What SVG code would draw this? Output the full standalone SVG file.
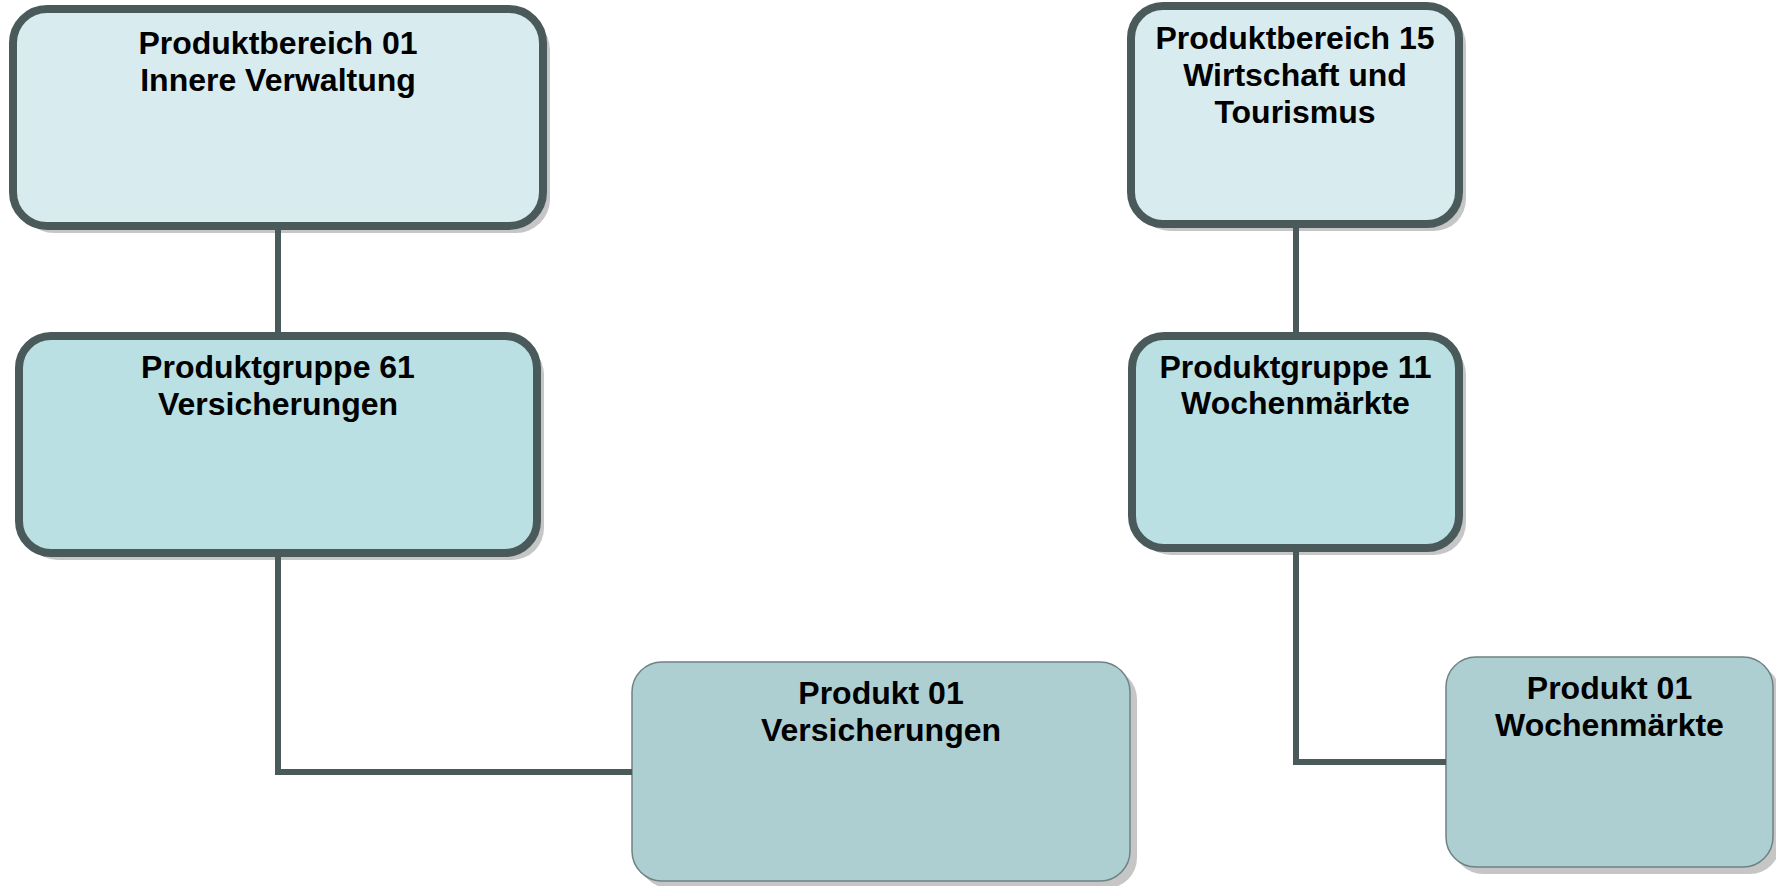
<svg xmlns="http://www.w3.org/2000/svg" width="1776" height="886" viewBox="0 0 1776 886">
<style>
.shadow{fill:#c6c6c6;}
.lvl1{fill:#d8ecef;stroke:#4a5a5b;stroke-width:8;}
.lvl2{fill:#bbe0e3;stroke:#4a5a5b;stroke-width:8;}
.lvl3{fill:#aecfd2;stroke:#6e8283;stroke-width:1.5;}
.conn{fill:none;stroke:#4a5a5b;stroke-width:6;stroke-linejoin:miter;}
text{font-family:"Liberation Sans",Arial,sans-serif;font-weight:bold;font-size:32px;fill:#000;text-anchor:middle;}
</style>
<rect width="1776" height="886" fill="#ffffff"/>
<g id="node-pb01">
<rect class="shadow" x="20" y="16" width="530" height="217" rx="34"/>
<rect class="lvl1" x="13" y="9" width="530" height="217" rx="34"/>
<text x="278" y="54">Produktbereich 01</text>
<text x="278" y="91">Innere Verwaltung</text>
</g>
<g id="node-pg61">
<rect class="shadow" x="26" y="343" width="518" height="217" rx="32"/>
<rect class="lvl2" x="19" y="336" width="518" height="217" rx="32"/>
<text x="278" y="378">Produktgruppe 61</text>
<text x="278" y="415">Versicherungen</text>
</g>
<g id="node-p01-vers">
<rect class="shadow" x="639" y="669" width="498" height="219" rx="30"/>
<rect class="lvl3" x="632" y="662" width="498" height="219" rx="30"/>
<text x="881" y="704">Produkt 01</text>
<text x="881" y="741">Versicherungen</text>
</g>
<g id="node-pb15">
<rect class="shadow" x="1138" y="13" width="328" height="218" rx="32"/>
<rect class="lvl1" x="1131" y="6" width="328" height="218" rx="32"/>
<text x="1295" y="49">Produktbereich 15</text>
<text x="1295" y="86">Wirtschaft und</text>
<text x="1295" y="123">Tourismus</text>
</g>
<g id="node-pg11">
<rect class="shadow" x="1139" y="343" width="327" height="212" rx="32"/>
<rect class="lvl2" x="1132" y="336" width="327" height="212" rx="32"/>
<text x="1295.5" y="378">Produktgruppe 11</text>
<text x="1295.5" y="414">Wochenmärkte</text>
</g>
<g id="node-p01-woch">
<rect class="shadow" x="1453" y="664" width="327" height="210" rx="30"/>
<rect class="lvl3" x="1446" y="657" width="327" height="210" rx="30"/>
<text x="1609.5" y="699">Produkt 01</text>
<text x="1609.5" y="736">Wochenmärkte</text>
</g>
<g id="connectors">
<path class="conn" d="M278 230 V332"/>
<path class="conn" d="M278 557 V772 H632"/>
<path class="conn" d="M1296 228 V332"/>
<path class="conn" d="M1296 552 V762 H1446"/>
</g>
</svg>
